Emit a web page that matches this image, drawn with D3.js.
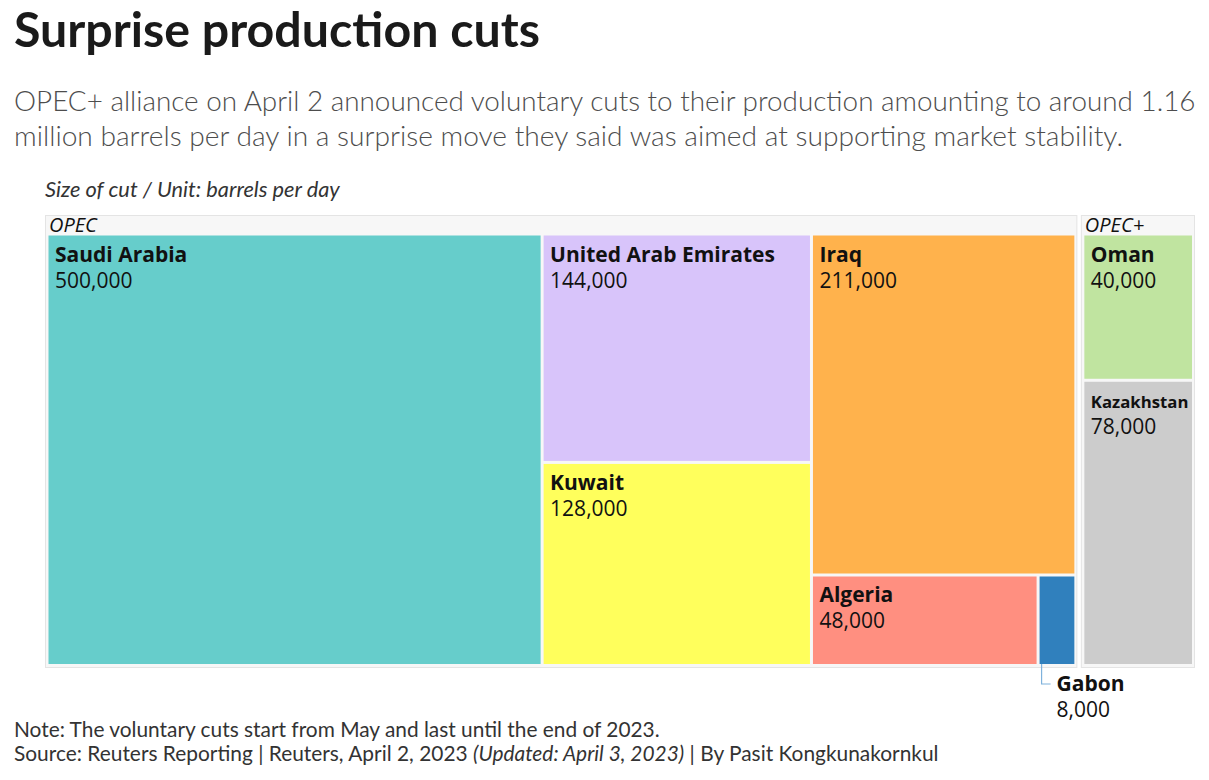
<!DOCTYPE html>
<html><head><meta charset="utf-8">
<script src="https://cdn.jsdelivr.net/npm/d3@7"></script>
<style>
body{margin:0;background:#fff}
svg{display:block}
text{font-family:Lato,"Open Sans","Noto Sans",sans-serif}
text.lab{font-family:"Open Sans","Noto Sans",sans-serif}
</style>
</head><body>
<svg id="c" width="1209" height="780"></svg>
<script>
// ---- data ----
const groupNames = ["OPEC", "OPEC+"];
const countryGroups = ["OPEC","OPEC","OPEC","OPEC","OPEC","OPEC","OPEC+","OPEC+"];
const countries = ["Saudi Arabia","United Arab Emirates","Kuwait","Iraq","Algeria","Gabon","Oman","Kazakhstan"];
const cuts = [500000,144000,128000,211000,48000,8000,40000,78000];
const colors = ["#66cdcb","#d8c4fa","#ffff5c","#ffb24c","#ff8f80","#3080bd","#c0e4a0","#cccccc"];
const titleText = "Surprise production cuts";
const subtitleLines = [
  "OPEC+ alliance on April 2 announced voluntary cuts to their production amounting to around 1.16",
  "million barrels per day in a surprise move they said was aimed at supporting market stability."
];
const unitText = "Size of cut / Unit: barrels per day";
const noteText = "Note: The voluntary cuts start from May and last until the end of 2023.";
const sourceText = "Source: Reuters Reporting | Reuters, April 2, 2023 ";
const updatedText = "(Updated: April 3, 2023)";
const bylineText = " | By Pasit Kongkunakornkul";

const svg = d3.select("#c");
const fmt = d3.format(",");

function fit(sel, target, base){
  sel.attr("font-size", base);
  const w = sel.node().getComputedTextLength();
  if (w > 0) sel.attr("font-size", base * target / w);
  return sel;
}

// Title
fit(svg.append("text").attr("x",14).attr("y",47).attr("font-weight",700)
  .attr("fill","#1a1a1a").text(titleText), 526, 44);

// Subtitle
const subW = [1182, 1110];
subtitleLines.forEach((l,i)=>{
  fit(svg.append("text").attr("x",14).attr("y",111+i*35).attr("fill","#4d4d4d")
    .attr("font-weight",300).text(l), subW[i], 24);
});

// unit
fit(svg.append("text").attr("x",45).attr("y",197).attr("font-style","italic")
  .attr("fill","#333").text(unitText), 295, 18);

// ---- treemap ----
const rootData = {name:"root", children: groupNames.map(g=>({
  name:g,
  children: countries.map((c,i)=>({name:c, value:cuts[i], color:colors[i], group:countryGroups[i]}))
    .filter(d=>d.group===g)
}))};

const root = d3.hierarchy(rootData).sum(d=>d.children?0:d.value);
d3.treemap()
  .tile(d3.treemapSquarify)
  .size([1150,453])
  .paddingInner(d=>d.depth===0?3.5:3)
  .paddingTop(d=>d.depth===1?20.5:0)
  .paddingLeft(d=>d.depth===1?3.5:0)
  .paddingRight(d=>d.depth===1?3:0)
  .paddingBottom(d=>d.depth===1?4:0)
  (root);

const g = svg.append("g").attr("transform","translate(45,215)");

const grp = g.selectAll("g.grp").data(root.children).join("g").attr("class","grp");
grp.append("rect")
  .attr("x",d=>d.x0+0.5).attr("y",d=>d.y0+0.5)
  .attr("width",d=>d.x1-d.x0-1).attr("height",d=>d.y1-d.y0-1)
  .attr("fill","#f7f7f7").attr("stroke","#e4e4e4").attr("stroke-width",1);
grp.append("text").attr("class","lab")
  .attr("x",d=>d.x0+4).attr("y",d=>d.y0+17)
  .attr("font-style","italic").attr("font-size",20).attr("fill","#111")
  .text(d=>d.data.name);

const leaves = root.leaves();
const leaf = g.selectAll("g.leaf").data(leaves).join("g").attr("class","leaf");
leaf.append("rect")
  .attr("x",d=>d.x0).attr("y",d=>d.y0)
  .attr("width",d=>d.x1-d.x0).attr("height",d=>d.y1-d.y0)
  .attr("fill",d=>d.data.color);

const NAME_SIZE = 21, VALUE_SIZE = 21;
leaf.each(function(d){
  const w = d.x1-d.x0;
  const sel = d3.select(this);
  if (w < 60) {
    // outside label with leader
    const lx = d.x0+2, ly = d.y1;
    sel.append("path")
      .attr("d", d3.line()([[lx,ly],[lx,ly+20],[lx+9,ly+20]]))
      .attr("fill","none").attr("stroke","#7fb2dc").attr("stroke-width",1.2);
    sel.append("text").attr("class","lab").attr("x",lx+15).attr("y",ly+27).attr("font-weight",700)
      .attr("font-size",NAME_SIZE).attr("fill","#111").text(d.data.name);
    sel.append("text").attr("class","lab").attr("x",lx+15).attr("y",ly+53)
      .attr("font-size",VALUE_SIZE).attr("fill","#111").text(fmt(d.data.value));
    return;
  }
  const name = sel.append("text").attr("class","lab").attr("x",d.x0+6.5).attr("y",d.y0+26)
    .attr("font-weight",700).attr("font-size",NAME_SIZE).attr("fill","#111").text(d.data.name);
  const nw = name.node().getComputedTextLength();
  if (nw > w-10) name.attr("font-size", NAME_SIZE*(w-10)/nw);
  sel.append("text").attr("class","lab").attr("x",d.x0+6.5).attr("y",d.y0+52)
    .attr("font-size",VALUE_SIZE).attr("fill","#111").text(fmt(d.data.value));
});

// footer
fit(svg.append("text").attr("x",14).attr("y",737).attr("fill","#333").text(noteText), 646, 18);
const src = svg.append("text").attr("x",14).attr("y",761).attr("fill","#333").attr("font-size",18);
src.append("tspan").text(sourceText);
src.append("tspan").attr("font-style","italic").text(updatedText);
src.append("tspan").text(bylineText);
{
  const w = src.node().getComputedTextLength();
  src.attr("font-size", 18*925/w);
}
</script>
</body></html>
